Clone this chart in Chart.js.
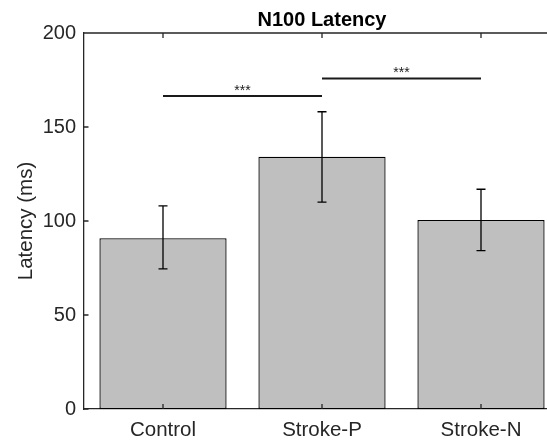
<!DOCTYPE html>
<html><head><meta charset="utf-8">
<script src="https://cdn.jsdelivr.net/npm/chart.js@4"></script>
<style>html,body{margin:0;padding:0;overflow:hidden;background:#fff}</style>
</head><body>
<canvas id="c" width="562" height="441"></canvas>
<script>
const categories = ['Control', 'Stroke-P', 'Stroke-N'];
const latency = [90.8, 134.2, 100.5];
const errLow = [74.5, 110.0, 84.2];
const errHigh = [108.0, 158.1, 116.9];
const yTicks = [0, 50, 100, 150, 200];
const sigPairs = [[0, 1], [1, 2]];
const sigY = [166.5, 175.8];
const sigLabels = ['***', '***'];

const FONT = '"Liberation Sans", Arial, sans-serif';
const AXIS = '#262626';

const overlay = {
  id: 'overlay',
  afterDatasetsDraw(chart) {
    const { ctx, chartArea: a, scales: { x, y } } = chart;
    ctx.save();
    // error bars
    ctx.strokeStyle = '#000';
    ctx.lineWidth = 1.3;
    categories.forEach((c, i) => {
      const cx = x.getPixelForValue(i);
      const yt = y.getPixelForValue(errHigh[i]);
      const yb = y.getPixelForValue(errLow[i]);
      ctx.beginPath();
      ctx.moveTo(cx, yt); ctx.lineTo(cx, yb);
      ctx.moveTo(cx - 4.5, yt); ctx.lineTo(cx + 4.5, yt);
      ctx.moveTo(cx - 4.5, yb); ctx.lineTo(cx + 4.5, yb);
      ctx.stroke();
    });
    // significance lines
    sigPairs.forEach((p, k) => {
      const x1 = x.getPixelForValue(p[0]);
      const x2 = x.getPixelForValue(p[1]);
      const yy = y.getPixelForValue(sigY[k]);
      ctx.strokeStyle = '#1a1a1a';
      ctx.lineWidth = 2;
      ctx.beginPath(); ctx.moveTo(x1, yy); ctx.lineTo(x2, yy); ctx.stroke();
      ctx.fillStyle = '#1a1a1a';
      ctx.font = '14px ' + FONT;
      ctx.textAlign = 'center';
      ctx.textBaseline = 'alphabetic';
      ctx.fillText(sigLabels[k], (x1 + x2) / 2, yy - 1);
    });
    // box (top, right) and inward ticks
    ctx.strokeStyle = AXIS;
    ctx.lineWidth = 1.3;
    ctx.beginPath();
    ctx.moveTo(a.left, a.top); ctx.lineTo(a.right, a.top); ctx.lineTo(a.right, a.bottom);
    yTicks.forEach(v => {
      const py = y.getPixelForValue(v);
      ctx.moveTo(a.left, py); ctx.lineTo(a.left + 5, py);
      ctx.moveTo(a.right, py); ctx.lineTo(a.right - 5, py);
    });
    categories.forEach((c, i) => {
      const px = x.getPixelForValue(i);
      ctx.moveTo(px, a.bottom); ctx.lineTo(px, a.bottom - 5);
      ctx.moveTo(px, a.top); ctx.lineTo(px, a.top + 5);
    });
    ctx.stroke();
    ctx.restore();
  }
};

new Chart(document.getElementById('c'), {
  type: 'bar',
  data: {
    labels: categories,
    datasets: [{
      data: latency,
      backgroundColor: '#bfbfbf',
      borderColor: '#000',
      borderWidth: 1.3,
      borderSkipped: false,
      categoryPercentage: 1,
      barPercentage: 0.8
    }]
  },
  options: {
    responsive: false,
    animation: false,
    devicePixelRatio: 1,
    layout: { padding: { left: 0, right: 1.5, top: 0, bottom: 0 } },
    plugins: {
      legend: { display: false },
      tooltip: { enabled: false },
      title: {
        display: true,
        text: 'N100 Latency',
        fullSize: false,
        color: '#000',
        font: { family: FONT, size: 20, weight: 'bold', lineHeight: 1.2 },
        padding: { top: 8, bottom: 1 }
      }
    },
    scales: {
      x: {
        grid: { display: false, drawTicks: false },
        border: { display: true, color: AXIS, width: 1.3 },
        ticks: { color: AXIS, font: { family: FONT, size: 20.5 }, padding: 9 },
        afterFit: s => { s.height = 32; }
      },
      y: {
        min: 0, max: 200,
        afterBuildTicks: s => { s.ticks = yTicks.map(v => ({ value: v })); },
        grid: { display: false, drawTicks: false },
        border: { display: true, color: AXIS, width: 1.3 },
        ticks: { color: AXIS, font: { family: FONT, size: 20 }, padding: 7.5 },
        title: {
          display: true,
          text: 'Latency (ms)',
          color: AXIS,
          font: { family: FONT, size: 20.5, lineHeight: 1.2 },
          padding: { top: 13.7, bottom: 0 }
        },
        afterFit: s => { s.width = 83.5; }
      }
    }
  },
  plugins: [overlay]
});
</script>
</body></html>
